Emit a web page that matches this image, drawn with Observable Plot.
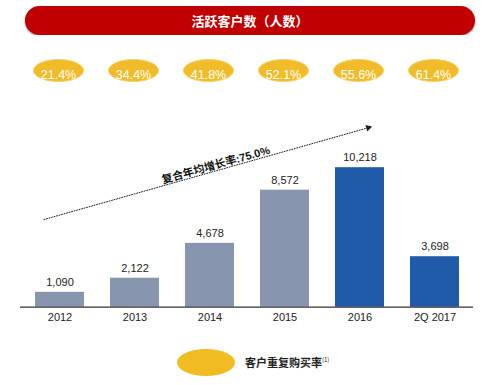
<!DOCTYPE html>
<html>
<head>
<meta charset="utf-8">
<script src="https://cdn.jsdelivr.net/npm/d3@7"></script>
<script src="https://cdn.jsdelivr.net/npm/@observablehq/plot@0.6"></script>
<style>
  body { margin: 0; background: #fff; width: 499px; height: 385px; overflow: hidden;
         font-family: "Liberation Sans", Arial, "Noto Sans CJK SC", sans-serif; }
  .banner { margin: 6px 0 0 25px; width: 450px; height: 29px; background: #c00000;
            border-radius: 14.5px; color: #fff; font-weight: bold; font-size: 13px;
            line-height: 29px; text-align: center; box-shadow: 0 1px 2px rgba(80,0,0,0.45);
            font-family: "Noto Sans CJK SC", sans-serif; }
  .legend { height: 50px; display: flex; align-items: center; padding-left: 177px; box-sizing: border-box; padding-top: 4px; }
  .legend .sw { width: 58px; height: 27px; border-radius: 50%; background: #f1bc22; margin-right: 10px; }
  .legend .lb { font-size: 11px; font-weight: bold; color: #222; font-family: "Noto Sans CJK SC", sans-serif; }
  .legend sup { font-size: 6px; font-weight: normal; vertical-align: 5px; }
</style>
</head>
<body>
<div class="banner" id="title"></div>
<div id="chart"></div>
<div class="legend"><span class="sw"></span><span class="lb" id="leg"></span></div>
<script>
const titleText = "活跃客户数（人数）";
const legendText = "客户重复购买率";
const categories = ["2012", "2013", "2014", "2015", "2016", "2Q 2017"];
const customers = [1090, 2122, 4678, 8572, 10218, 3698];
const repurchaseRates = ["21.4%", "34.4%", "41.8%", "52.1%", "55.6%", "61.4%"];
const highlighted = ["2016", "2Q 2017"];
const cagrLabel = "复合年均增长率:75.0%";
// trend arrow annotation, in data units (category, value)
const trendFrom = ["2012", 6753];
const trendTo = ["2016", 12972];
const cagrLabelAt = ["2014", 10401];

document.getElementById("title").textContent = titleText;
document.getElementById("leg").innerHTML = legendText + "<sup>(1)</sup>";

const bars = categories.map((c, i) => ({year: c, value: customers[i], hi: highlighted.includes(c)}));
const rates = categories.map((c, i) => ({year: c, rate: repurchaseRates[i]}));

const ellipse = {
  draw(ctx, size) {
    const r = Math.sqrt(size / Math.PI), rx = r, ry = r * 0.44, k = 0.5522847;
    ctx.moveTo(rx, 0);
    ctx.bezierCurveTo(rx, ry * k, rx * k, ry, 0, ry);
    ctx.bezierCurveTo(-rx * k, ry, -rx, ry * k, -rx, 0);
    ctx.bezierCurveTo(-rx, -ry * k, -rx * k, -ry, 0, -ry);
    ctx.bezierCurveTo(rx * k, -ry, rx, -ry * k, rx, 0);
    ctx.closePath();
  }
};

const fmt = d3.format(",");
const chart = Plot.plot({
  width: 499,
  height: 300,
  marginLeft: 20,
  marginRight: 26,
  marginTop: 35,
  marginBottom: 28.3,
  style: {fontFamily: '"Liberation Sans", Arial, "Noto Sans CJK SC", sans-serif', color: "#222", background: "#fff"},
  x: {type: "band", domain: categories, paddingInner: 0.35, paddingOuter: 0.175, label: null},
  y: {domain: [0, 10218], range: [271.7, 132.2], axis: null},
  marks: [
    Plot.barY(bars, {x: "year", y: "value", fill: d => d.hi ? "#1f5ba8" : "#8796ae"}),
    Plot.ruleY([0], {stroke: "#333", strokeWidth: 1.3}),
    Plot.text(bars, {x: "year", y: "value", text: d => fmt(d.value), dy: -10, fontSize: 11, fill: "#222"}),
    Plot.axisX({tickSize: 0, tickPadding: 6, fontSize: 11, label: null, fill: "#222"}),
    Plot.dot(rates, {x: "year", frameAnchor: "top", dx: -1.5, r: 25, symbol: ellipse, fill: "#f1bc2a", stroke: "#f6d266", strokeWidth: 1}),
    Plot.text(rates, {x: "year", frameAnchor: "top", dx: -1.5, text: "rate", fontSize: 12.5, fill: "#fff"}),
    Plot.arrow([{}], {x1: () => trendFrom[0], y1: () => trendFrom[1], x2: () => trendTo[0], y2: () => trendTo[1],
      insetStart: -16.6, insetEnd: -8, headLength: 0, stroke: "#222", strokeWidth: 1, strokeDasharray: "1,1.6"}),
    Plot.dot([{}], {x: () => trendTo[0], y: () => trendTo[1], dx: 8.3, dy: -2.4, symbol: "triangle", r: 2.6, rotate: 74.3, fill: "#222"}),
    Plot.text([{}], {x: () => cagrLabelAt[0], y: () => cagrLabelAt[1], text: () => cagrLabel, dx: 5.8, rotate: -15.7,
      fontSize: 11, fontWeight: "bold", fill: "#111", fontFamily: '"Liberation Sans", Arial, "Noto Sans CJK SC", sans-serif'})
  ]
});
document.getElementById("chart").appendChild(chart);
</script>
</body>
</html>
